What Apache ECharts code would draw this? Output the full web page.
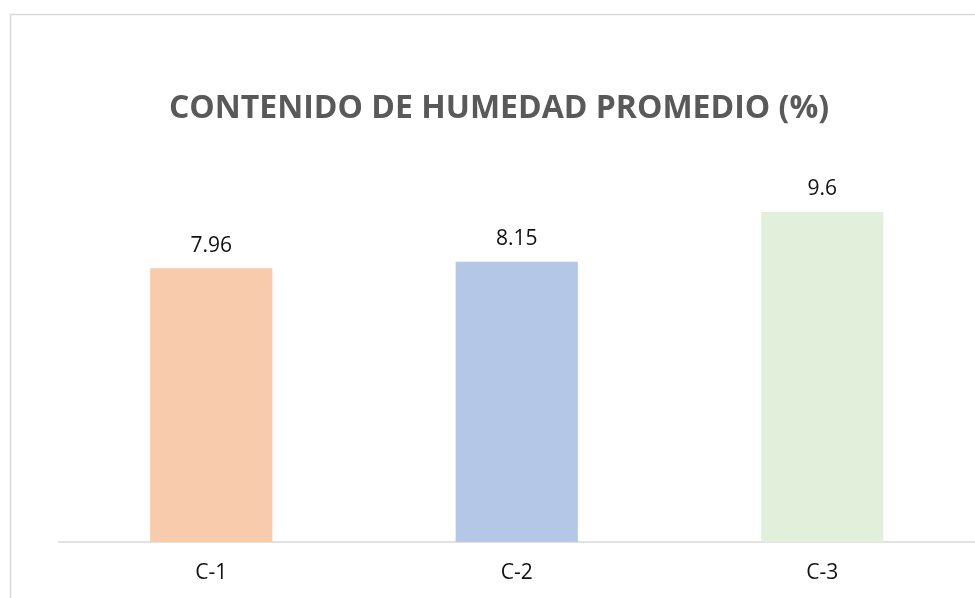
<!DOCTYPE html>
<html style="height: 100%">
   <head>
       <meta charset="utf-8">
   </head>
   <body style="height: 100%; margin: 0; background: #fff">
       <div id="container" style="width: 975px; height: 598px"></div>
       <script type="text/javascript" src="https://cdn.jsdelivr.net/npm/echarts@6/dist/echarts.min.js"></script>
       <script type="text/javascript">
// data
var categories = ['C-1', 'C-2', 'C-3'];
var humedad = [7.96, 8.15, 9.6];
var barColors = ['#F8CBAD', '#B4C7E7', '#E2EFDA'];

var dom = document.getElementById("container");
var myChart = echarts.init(dom);
var option = {
    backgroundColor: '#fff',
    textStyle: {
        fontFamily: 'Open Sans'
    },
    graphic: [
        {
            type: 'rect',
            shape: { x: 10.5, y: 14.5, width: 1000, height: 700 },
            style: { fill: 'none', stroke: '#d9d9d9', lineWidth: 1.5 },
            silent: true
        }
    ],
    title: {
        text: 'CONTENIDO DE HUMEDAD PROMEDIO (%)',
        left: 494,
        top: 88,
        textAlign: 'center',
        textStyle: {
            fontFamily: 'Open Sans',
            fontSize: 32,
            fontWeight: 'bold',
            color: '#595959'
        }
    },
    grid: {
        left: 58.5,
        right: -1.5,
        top: 129.4,
        bottom: 56,
        containLabel: false
    },
    xAxis: {
        type: 'category',
        data: categories,
        axisLine: { show: true, lineStyle: { color: '#d9d9d9', width: 1.5 } },
        axisTick: { show: false },
        axisLabel: {
            margin: 21,
            fontSize: 21,
            color: '#111',
            fontFamily: 'Open Sans'
        }
    },
    yAxis: {
        type: 'value',
        min: 0,
        max: 12,
        show: false,
        splitLine: { show: false }
    },
    series: [
        {
            name: 'humedad',
            type: 'bar',
            barWidth: '40%',
            data: humedad.map(function (v, i) {
                return { value: v, itemStyle: { color: barColors[i] } };
            }),
            label: {
                show: true,
                position: 'top',
                distance: 12,
                fontSize: 21,
                color: '#111',
                fontFamily: 'Open Sans'
            }
        }
    ]
};
myChart.setOption(option, true);
       </script>
   </body>
</html>
